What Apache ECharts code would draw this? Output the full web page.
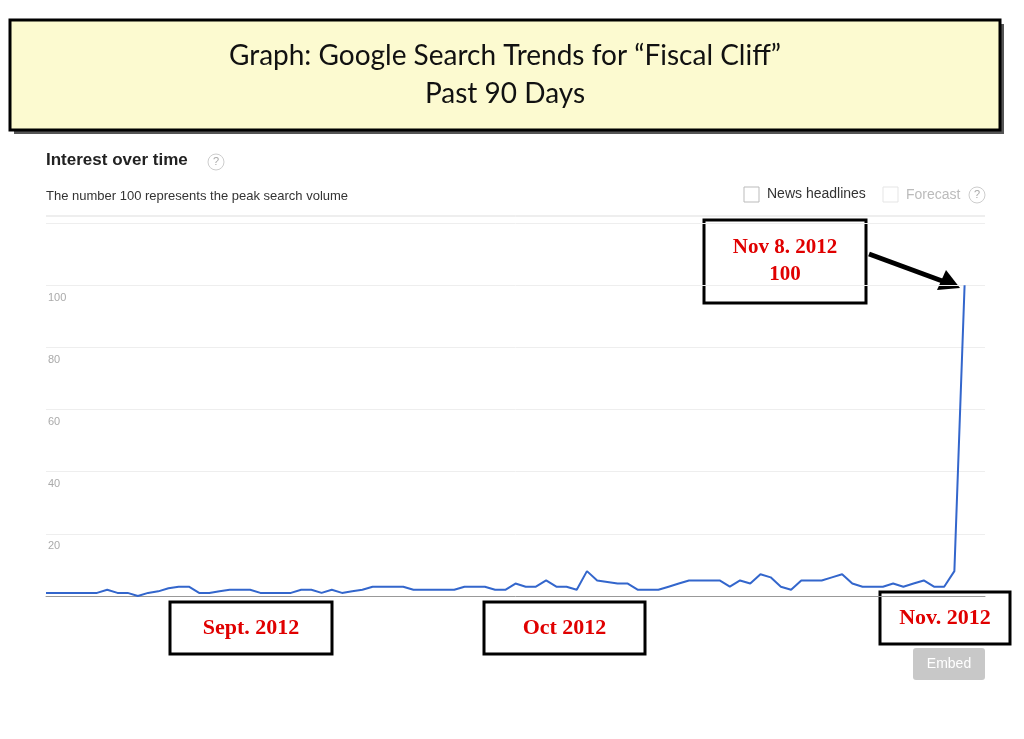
<!DOCTYPE html><html><head><meta charset="utf-8"><script src="https://cdn.jsdelivr.net/npm/echarts@6/dist/echarts.min.js"></script>
<style>html,body{margin:0;background:#fff}#c{width:1024px;height:739px}</style></head><body><div id="c"></div><script>
const days = [];
for (let i = 0; i < 93; i++) { const d = new Date(2012, 7, 10 + i); days.push((d.getMonth()+1)+'/'+d.getDate()); }
const interest = [1,1,1,1,1,1,2,1,1,0,1,1.5,2.5,3,3,1,1,1.5,2,2,2,1,1,1,1,2,2,1,2,1,1.5,2,3,3,3,3,2,2,2,2,2,3,3,3,2,2,4,3,3,5,3,3,2,8,5,4.5,4,4,2,2,2,3,4,5,5,5,5,3,5,4,7,6,3,2,5,5,5,6,7,4,3,3,3,4,3,4,5,3,3,8,100,'-','-'];
const yTicks = [20,40,60,80,100];
const c = echarts.init(document.getElementById('c'));
const box = (x,y,w,h,txt,fs) => ({type:'group',children:[
 {type:'rect',shape:{x:x,y:y,width:w,height:h},style:{fill:'#fff',stroke:'#000',lineWidth:3}},
 {type:'text',x:x+w/2,y:y+h/2,style:{text:txt,fill:'#e00000',font:'bold '+fs+'px "Liberation Serif", serif',align:'center',verticalAlign:'middle',lineHeight:fs+6}}]});
c.setOption({
 animation:false,
 grid:{left:46,right:39,top:223,bottom:143},
 xAxis:{type:'category',data:days,boundaryGap:false,axisLine:{lineStyle:{color:'#999'}},axisTick:{show:false},axisLabel:{show:false}},
 yAxis:{type:'value',min:0,max:120,interval:20,axisLine:{show:false},axisTick:{show:false},
  splitLine:{lineStyle:{color:'#eee'}},
  axisLabel:{inside:true,verticalAlign:'top',margin:2,padding:[7,0,0,0],color:'#aaa',fontSize:11,fontFamily:'Arial',
   formatter:v=>yTicks.includes(v)?String(v):''}},
 series:[{type:'line',data:interest,symbol:'none',lineStyle:{color:'#3366cc',width:2}}],
 graphic:[
  {type:'rect',shape:{x:14,y:24,width:990,height:110},style:{fill:'#555'}},
  {type:'rect',shape:{x:10,y:20,width:990,height:110},style:{fill:'#fcfad0',stroke:'#000',lineWidth:3}},
  {type:'text',x:505,y:75,style:{text:'Graph: Google Search Trends for \u201cFiscal Cliff\u201d\nPast 90 Days',font:'28px Lato, sans-serif',fill:'#111',align:'center',verticalAlign:'middle',lineHeight:38}},
  {type:'text',x:46,y:152,style:{text:'Interest over time',font:'bold 17px "Liberation Sans Narrow", Arial, sans-serif',fill:'#222'}},
  {type:'circle',shape:{cx:216,cy:162,r:8},style:{fill:'#fff',stroke:'#ccc'}},
  {type:'text',x:216,y:162,style:{text:'?',font:'11px Arial',fill:'#aaa',align:'center',verticalAlign:'middle'}},
  {type:'text',x:46,y:190,style:{text:'The number 100 represents the peak search volume',font:'13px "Liberation Sans Narrow", Arial, sans-serif',fill:'#333'}},
  {type:'rect',shape:{x:744,y:187,width:15,height:15},style:{fill:'#fff',stroke:'#bbb'}},
  {type:'text',x:767,y:187,style:{text:'News headlines',font:'14px "Liberation Sans Narrow", Arial, sans-serif',fill:'#333'}},
  {type:'rect',shape:{x:883,y:187,width:15,height:15},style:{fill:'#fff',stroke:'#e5e5e5'}},
  {type:'text',x:906,y:188,style:{text:'Forecast',font:'14px "Liberation Sans Narrow", Arial, sans-serif',fill:'#bbb'}},
  {type:'circle',shape:{cx:977,cy:195,r:8},style:{fill:'#fff',stroke:'#ccc'}},
  {type:'text',x:977,y:195,style:{text:'?',font:'11px Arial',fill:'#aaa',align:'center',verticalAlign:'middle'}},
  {type:'line',shape:{x1:46,y1:216,x2:985,y2:216},style:{stroke:'#ddd',lineWidth:1}},
  box(704,220,162,83,'Nov 8. 2012\n100',21),
  {type:'line',shape:{x1:869,y1:254,x2:945,y2:282},style:{stroke:'#000',lineWidth:5}},
  {type:'polygon',shape:{points:[[960,288],[937,290],[946,270]]},style:{fill:'#000'}},
  box(170,602,162,52,'Sept. 2012',22),
  box(484,602,161,52,'Oct 2012',22),
  box(880,592,130,52,'Nov. 2012',22),
  {type:'rect',shape:{x:913,y:648,width:72,height:32,r:3},style:{fill:'#c8c8c8'}},
  {type:'text',x:949,y:664,style:{text:'Embed',font:'14px Arial',fill:'#fff',align:'center',verticalAlign:'middle'}}
 ]
});
</script></body></html>
